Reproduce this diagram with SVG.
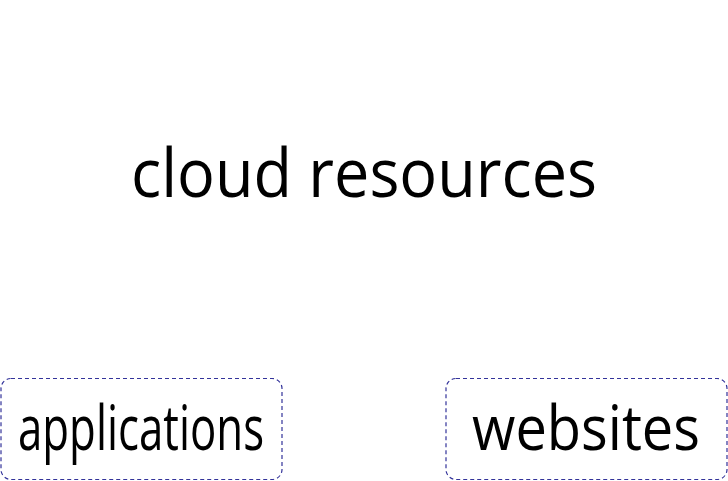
<svg xmlns="http://www.w3.org/2000/svg" width="728" height="481" viewBox="0 0 728 481">
<style>
.t{font-family:"Open Sans","Noto Sans",sans-serif;fill:#000}
.box{fill:#fff;stroke:#33339a;stroke-width:1.2;stroke-dasharray:4,3}
</style>
<rect width="728" height="481" fill="#fff"/>
<g id="cloud-resources">
<text class="t" x="131" y="197" font-size="67" textLength="466" lengthAdjust="spacingAndGlyphs">cloud resources</text>
</g>
<g id="connectors"></g>
<g id="applications">
<rect class="box" x="1" y="378.5" width="281" height="101" rx="10"/>
<text class="t" x="18" y="450" font-size="62" textLength="246" lengthAdjust="spacingAndGlyphs">applications</text>
</g>
<g id="websites">
<rect class="box" x="446" y="378.5" width="281" height="101" rx="10"/>
<text class="t" x="472" y="450" font-size="62" textLength="228" lengthAdjust="spacingAndGlyphs">websites</text>
</g>
</svg>
